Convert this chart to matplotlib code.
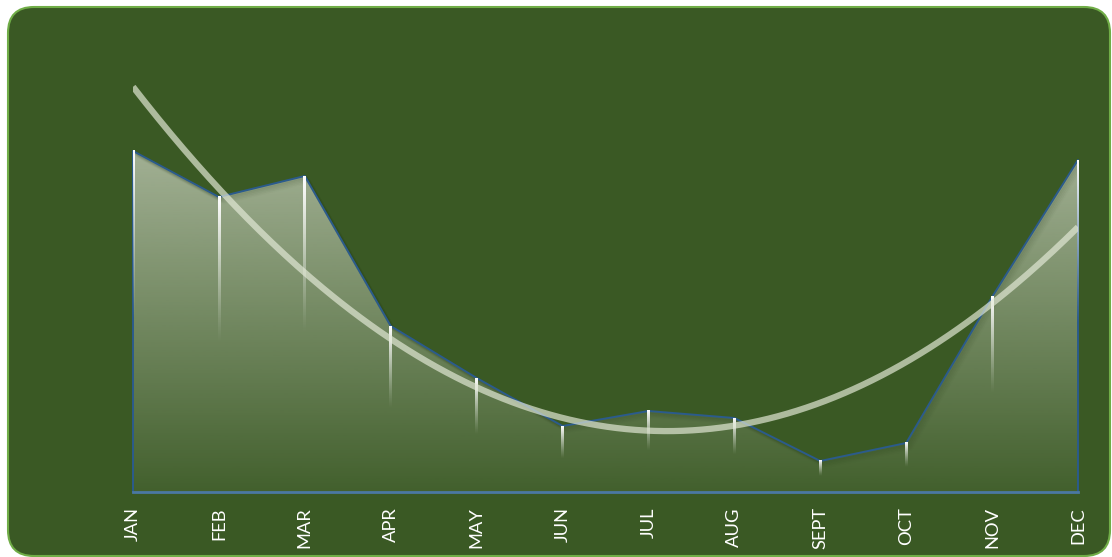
import matplotlib.pyplot as plt
import numpy as np
from matplotlib.patches import FancyBboxPatch, Polygon
from matplotlib.colors import to_rgb

months = ['JAN', 'FEB', 'MAR', 'APR', 'MAY', 'JUN', 'JUL', 'AUG', 'SEPT', 'OCT', 'NOV', 'DEC']
values = [34.1, 29.5, 31.6, 16.6, 11.4, 6.6, 8.1, 7.4, 3.1, 4.9, 19.5, 33.2]

bg = '#3A5924'
x = np.arange(len(months))
y = np.array(values)

W, H = 1112, 557
fig = plt.figure(figsize=(W / 100, H / 100), dpi=100)
fig.patch.set_facecolor('white')

# rounded green panel behind everything
back = fig.add_axes([0, 0, 1, 1])
back.set_xlim(0, W)
back.set_ylim(H, 0)
back.axis('off')
back.add_patch(FancyBboxPatch((8, 7), 1102, 549, boxstyle='round,pad=0,rounding_size=26',
                              facecolor=bg, edgecolor='#70AD47', linewidth=1.5))

ax = fig.add_axes([133 / W, 65 / H, 945 / W, 450 / H])
ax.set_facecolor('none')
ax.set_xlim(0, 11)
ax.set_ylim(0, 45)

# gradient fill clipped to the area polygon
poly_xy = np.vstack([[0, 0], np.column_stack([x, y]), [11, 0]])
clip = Polygon(poly_xy, closed=True, facecolor='none', edgecolor='none')
ax.add_patch(clip)
n = 256
grad = np.zeros((n, 1, 4))
grad[..., :3] = to_rgb('#EEF0E6')
grad[:, 0, 3] = np.linspace(0.58, 0.05, n)
img = ax.imshow(grad, extent=(0, 11, 0, y.max()), origin='upper', aspect='auto',
                interpolation='bilinear', zorder=1)
img.set_clip_path(clip)

# soft shadow under the outline
for k, a in zip(range(1, 6), [0.10, 0.08, 0.06, 0.04, 0.02]):
    ax.plot(x + 0.012 * k, y - 0.12 * k, color='#1E3310', lw=2, alpha=a, zorder=2,
            solid_capstyle='butt')

# area outline
ax.plot(poly_xy[:, 0], poly_xy[:, 1], color='#2B5B8C', lw=1.4, zorder=3, clip_on=False)
ax.plot([0, 11], [0, 0], color='#4A78A2', lw=2, zorder=3, clip_on=False)

# white drop lines fading out halfway down
half_w = 1.4 * 11 / 945
drop = np.ones((128, 1, 4))
drop[:, 0, 3] = np.linspace(1, 0, 128) ** 1.2
for xi, yi in zip(x, y):
    ax.imshow(drop, extent=(xi - half_w, xi + half_w, yi * 0.5, yi), origin='upper',
              aspect='auto', interpolation='bilinear', zorder=4)

# polynomial trendline
coef = np.polyfit(x, y, 2)
xt = np.linspace(0, 11, 300)
ax.plot(xt, np.polyval(coef, xt), color='#E4EAD8', alpha=0.68, lw=4.5, zorder=5,
        solid_capstyle='butt')

ax.set_xlim(0, 11)
ax.set_ylim(0, 45)
ax.set_xticks(x)
ax.set_xticklabels(months, rotation=90, color='white', fontsize=13.2, family='Lato')
ax.tick_params(axis='x', length=0, pad=11)
ax.set_yticks([])
for s in ax.spines.values():
    s.set_visible(False)

fig.savefig('out.png', dpi=100, facecolor='white')
